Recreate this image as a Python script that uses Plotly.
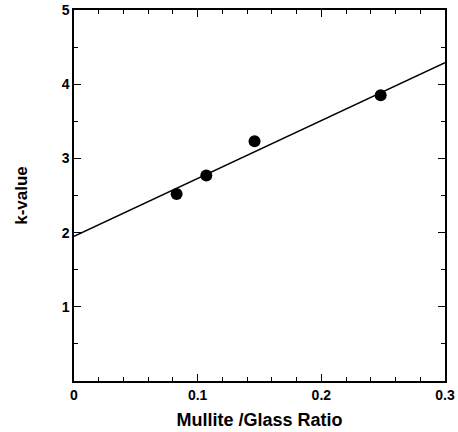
import plotly.graph_objects as go

# Data
ratio = [0.083, 0.107, 0.146, 0.248]
k_value = [2.52, 2.77, 3.23, 3.85]

fit_x = [0.0, 0.3]
fit_y = [1.95, 4.29]

x_ticks = [0, 0.1, 0.2, 0.3]
x_ticklabels = ["0", "0.1", "0.2", "0.3"]
y_ticks = [1, 2, 3, 4, 5]
y_ticklabels = ["1", "2", "3", "4", "5"]

font_family = "Liberation Sans, Arial, Helvetica, sans-serif"

fig = go.Figure()
fig.add_trace(go.Scatter(x=fit_x, y=fit_y, mode="lines",
                         line=dict(color="black", width=1.5),
                         showlegend=False, hoverinfo="skip"))
fig.add_trace(go.Scatter(x=ratio, y=k_value, mode="markers",
                         marker=dict(color="black", size=12),
                         showlegend=False))

axis_common = dict(
    showgrid=False, zeroline=False, automargin=False,
    showline=True, linecolor="black", linewidth=1.5,
    mirror="ticks", ticks="inside", ticklen=7, tickwidth=1.2, tickcolor="black",
    ticklabeloverflow="allow",
    tickfont=dict(family=font_family, size=14, color="black", weight="bold"),
)

fig.update_xaxes(
    range=[0, 0.3], tickvals=x_ticks, ticktext=x_ticklabels,
    minor=dict(dtick=0.02, ticks="inside", ticklen=4, tickcolor="black", tickwidth=1),
    title=dict(text="Mullite /Glass Ratio", standoff=12,
               font=dict(family=font_family, size=18, color="black", weight="bold")),
    **axis_common,
)
fig.update_yaxes(
    range=[0, 5], tickvals=y_ticks, ticktext=y_ticklabels,
    minor=dict(dtick=0.5, ticks="inside", ticklen=4, tickcolor="black", tickwidth=1),
    title=dict(text="k-value", standoff=30,
               font=dict(family=font_family, size=17, color="black", weight="bold")),
    **axis_common,
)

fig.update_layout(
    width=458, height=432,
    margin=dict(l=74, r=13, t=10, b=51),
    plot_bgcolor="white", paper_bgcolor="white",
)

# remove the default 8px body margin so the figure sits at the page corner
fig.write_html("out.html", config={"displayModeBar": False},
               post_script="document.body.style.margin='0';")
